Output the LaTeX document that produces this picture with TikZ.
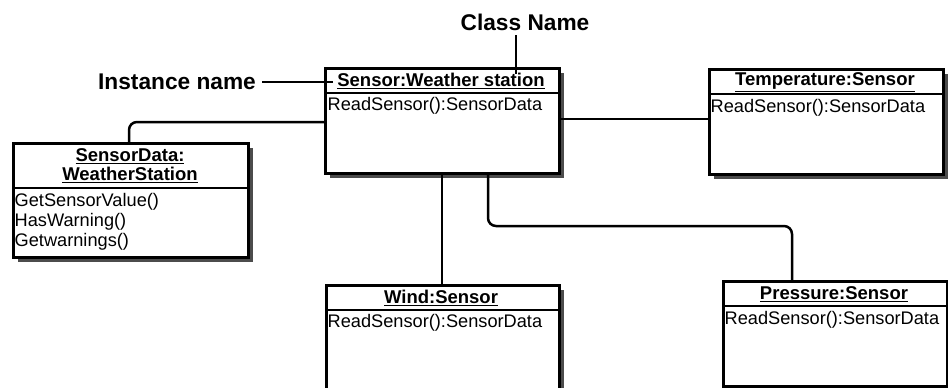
\documentclass[tikz,border=0pt]{standalone}
\usepackage{fontspec}
\setmainfont{Liberation Sans}
\usetikzlibrary{shadows,calc}
\tikzset{
  umlbox/.style={draw=black, line width=2.5pt, fill=white, inner sep=0pt, anchor=north west,
    drop shadow={shadow xshift=5pt, shadow yshift=-5pt, fill=black!70, opacity=1}},
  divider/.style={line width=1.7pt},
  hdr/.style={font=\fontsize{18.5}{20}\selectfont\bfseries, inner sep=0pt, align=center},
  body/.style={font=\fontsize{18.2}{20}\selectfont, inner sep=0pt, anchor=west, align=left},
  conn/.style={line width=2.5pt, rounded corners=8pt},
  note/.style={font=\fontsize{22.7}{24}\selectfont\bfseries, inner sep=0pt},
  noteline/.style={line width=2pt}
}
\begin{document}
\begin{tikzpicture}[x=1pt,y=-1pt]
\useasboundingbox (0,0) rectangle (948,388);
\clip (0,0) rectangle (948,388);
% boxes
\node[umlbox, minimum width=234pt, minimum height=105pt] (main) at (324,67) {};
\node[umlbox, minimum width=234pt, minimum height=105pt] (temp) at (708,68) {};
\node[umlbox, minimum width=235pt, minimum height=114pt] (sd) at (12,142) {};
\node[umlbox, minimum width=233pt, minimum height=106pt] (wind) at (325,284) {};
\node[umlbox, minimum width=224pt, minimum height=105pt] (pres) at (722,280) {};
% dividers
\draw[divider] (324,93) -- (558,93);
\draw[divider] (708,94) -- (942,94);
\draw[divider] (12,188) -- (247,188);
\draw[divider] (325,310) -- (558,310);
\draw[divider] (722,306) -- (946,306);
% headers
\node[hdr] (mainh) at (441,81) {\underline{Sensor:Weather station}};
\node[hdr] (temph) at (825,82) {\underline{Temperature:Sensor}};
\node[hdr] (sdh1) at (130,156) {\underline{SensorData:}};
\node[hdr] (sdh2) at (130,175) {\underline{WeatherStation}};
\node[hdr] (windh) at (441,298) {\underline{Wind:Sensor}};
\node[hdr] (presh) at (834,294) {\underline{Pressure:Sensor}};
% bodies
\node[body] (mainb) at (327.5,106) {ReadSensor():SensorData};
\node[body] (tempb) at (710.5,108) {ReadSensor():SensorData};
\node[body] (sdb1) at (14.5,202) {GetSensorValue()};
\node[body] (sdb2) at (14.5,222) {HasWarning()};
\node[body] (sdb3) at (14.5,242) {Getwarnings()};
\node[body] (windb) at (327.5,323) {ReadSensor():SensorData};
\node[body] (presb) at (724.5,320) {ReadSensor():SensorData};
% connectors
\coordinate (c1) at (129,122);
\draw[conn] (sd.north -| c1) |- (main.west |- c1);
\coordinate (c2) at (0,119);
\draw[conn] (main.east |- c2) -- (temp.west |- c2);
\coordinate (c3) at (442,0);
\draw[conn] (main.south -| c3) -- (wind.north -| c3);
\coordinate (c4) at (488,226);
\coordinate (c5) at (792,226);
\draw[conn] (main.south -| c4) |- (c5) -- (pres.north -| c5);
% annotations
\node[note] (cn) at (525,22) {Class Name};
\coordinate (cnend) at (516,74);
\coordinate (cnstart) at (516,35);
\draw[noteline] (cnstart) -- (cnend);
\node[note] (in) at (177,82) {Instance name};
\coordinate (inend) at (333,82);
\draw[noteline] ($(in.east)+(6,0)$) -- (inend);
\end{tikzpicture}
\end{document}
